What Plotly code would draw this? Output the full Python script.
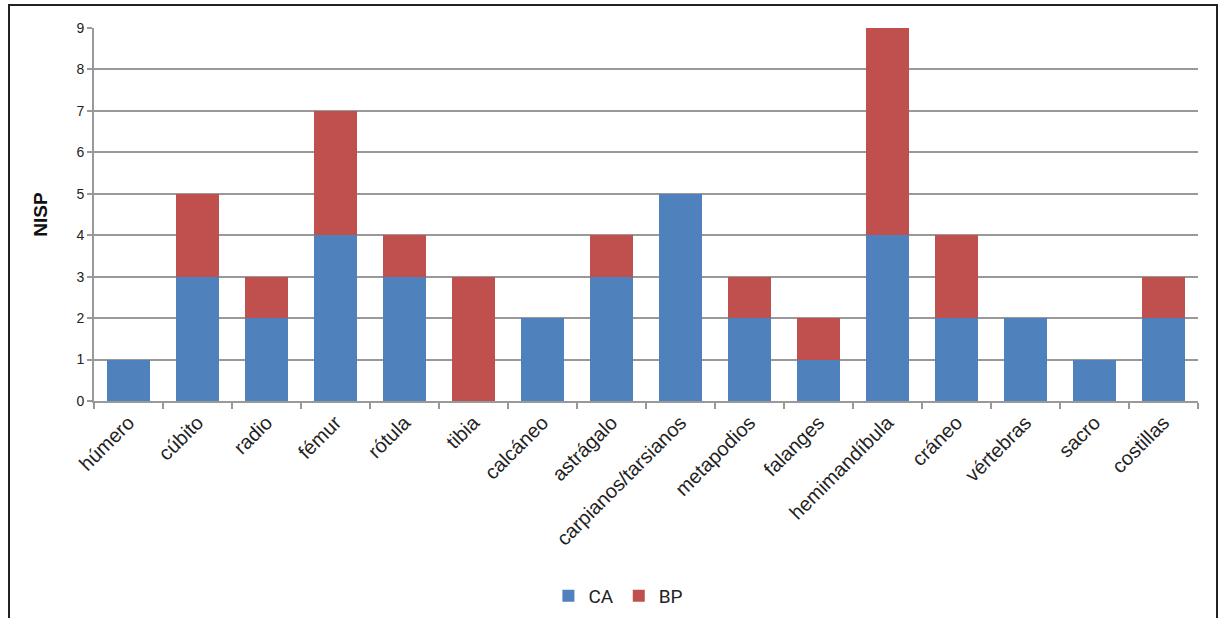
import plotly.graph_objects as go

categories = ["húmero", "cúbito", "radio", "fémur", "rótula", "tibia", "calcáneo",
              "astrágalo", "carpianos/tarsianos", "metapodios", "falanges",
              "hemimandíbula", "cráneo", "vértebras", "sacro", "costillas"]
ca_values = [1, 3, 2, 4, 3, 0, 2, 3, 5, 2, 1, 4, 2, 2, 1, 2]
bp_values = [0, 2, 1, 3, 1, 3, 0, 1, 0, 1, 1, 5, 2, 0, 0, 1]
y_ticks = list(range(0, 10))

fig = go.Figure()
fig.add_trace(go.Bar(x=categories, y=ca_values, name="CA", marker=dict(color="#4F81BD", line=dict(width=0))))
fig.add_trace(go.Bar(x=categories, y=bp_values, name="BP", marker=dict(color="#C0504D", line=dict(width=0))))

L, R, T, B = 94, 27, 28, 217
W, H = 1225, 618
pw, ph = W - L - R, H - T - B

fig.update_layout(
    barmode="stack",
    bargap=0.38,
    width=W, height=H,
    margin=dict(l=L, r=R, t=T, b=B, autoexpand=False),
    paper_bgcolor="white",
    plot_bgcolor="white",
    font=dict(family="Liberation Sans, Arial, sans-serif", color="#222"),
    legend=dict(orientation="h", x=0.475, xanchor="center", y=(401 - 596) / ph, yanchor="middle",
                font=dict(family="Roboto, sans-serif", size=19, color="#222"),
                traceorder="normal", itemwidth=30),
    showlegend=True,
)
fig.update_xaxes(
    type="category",
    automargin=False,
    tickangle=-45,
    tickfont=dict(size=20, color="#222"),
    showline=True, linecolor="#999", linewidth=2,
    ticks="outside", ticklen=6, tickcolor="#999", tickwidth=2,
    tickson="boundaries",
    showgrid=False,
)
fig.update_yaxes(
    range=[0, 9],
    automargin=False,
    tickvals=y_ticks,
    tickfont=dict(size=14, color="#222"),
    showline=True, linecolor="#999", linewidth=2,
    ticks="outside", ticklen=5, tickcolor="#999", tickwidth=2,
    showgrid=True, gridcolor="#999", gridwidth=2,
    zeroline=False,
    title=dict(text="<b>NISP</b>", font=dict(size=19, color="#111"), standoff=24),
)
fig.add_shape(type="rect", xref="paper", yref="paper",
              x0=(9 - L) / pw, x1=(1217 - L) / pw,
              y0=(401 - 640) / ph, y1=(401 - 5) / ph,
              line=dict(color="#222", width=2), fillcolor="rgba(0,0,0,0)", layer="below")

fig.write_html("out.html")
